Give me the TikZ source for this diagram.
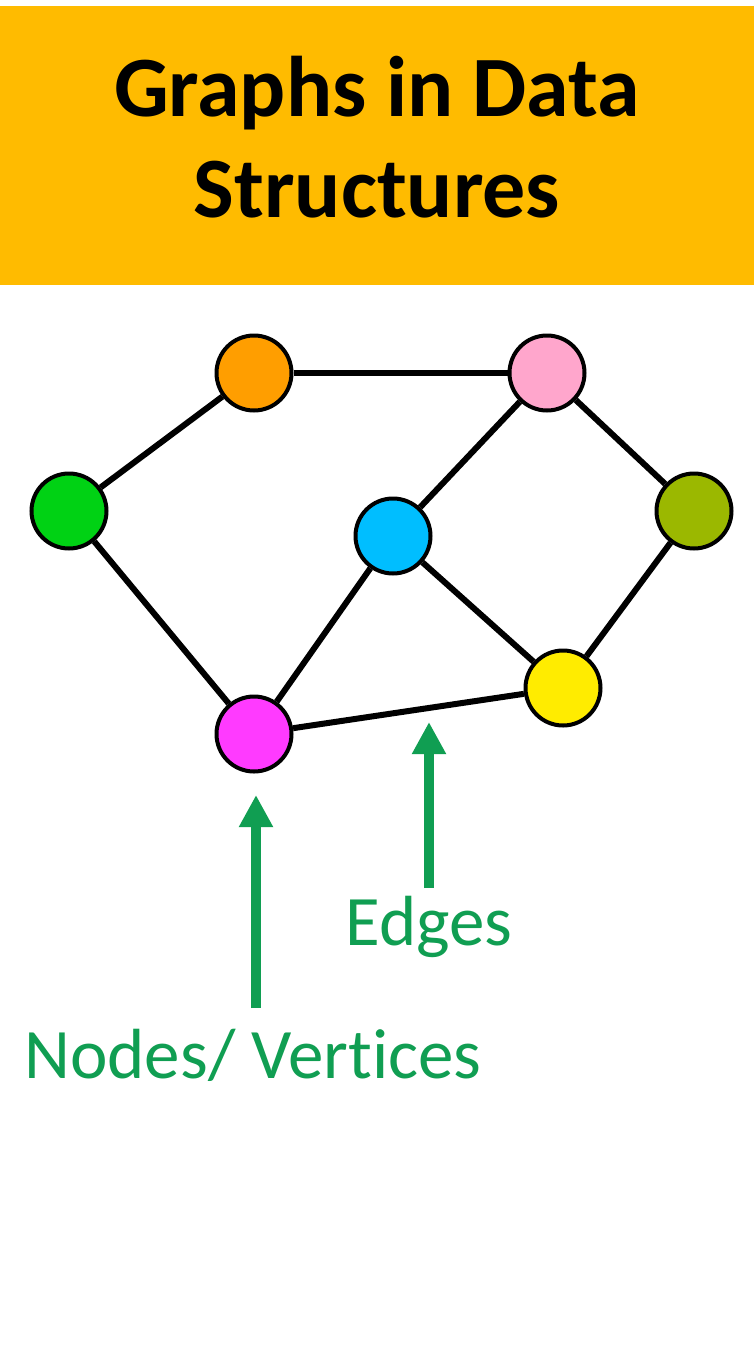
\documentclass[tikz,border=0pt]{standalone}
\usepackage{fontspec}
\setmainfont{Carlito}[Ligatures={NoCommon}]
\usetikzlibrary{arrows.meta}
\definecolor{banner}{RGB}{255,187,0}
\definecolor{cOrange}{RGB}{255,158,0}
\definecolor{cPink}{RGB}{255,166,204}
\definecolor{cGreen}{RGB}{0,210,20}
\definecolor{cCyan}{RGB}{0,190,255}
\definecolor{cOlive}{RGB}{155,184,0}
\definecolor{cYellow}{RGB}{255,236,0}
\definecolor{cMagenta}{RGB}{255,58,255}
\definecolor{labelgreen}{RGB}{16,158,82}
\begin{document}
\begin{tikzpicture}[x=1pt,y=-1pt,
  vertex/.style={circle,draw=black,line width=4pt,minimum size=75pt,inner sep=0pt},
  link/.style={line width=6pt,black},
  pointer/.style={labelgreen,line width=10pt,-{Triangle[length=32pt,width=32pt]}},
  caption/.style={labelgreen,font=\fontsize{71}{80}\selectfont,inner sep=0pt,anchor=base}]
\useasboundingbox (0,0) rectangle (754,1360);
\fill[white] (0,0) rectangle (754,1360);
% title banner
\fill[banner] (0,6) rectangle (754,285);
\node[font=\bfseries\fontsize{86}{100}\selectfont,anchor=base,inner sep=0pt] (t1) at (377,116) {Graphs in Data};
\node[font=\bfseries\fontsize{86}{100}\selectfont,anchor=base,inner sep=0pt] (t2) at (377,217) {Structures};
% vertices
\node[vertex,fill=cOrange]  (or) at (254,373) {};
\node[vertex,fill=cPink]    (pk) at (547,373) {};
\node[vertex,fill=cGreen]   (gr) at (69,511) {};
\node[vertex,fill=cCyan]    (cy) at (393,536) {};
\node[vertex,fill=cOlive]   (ol) at (694,511) {};
\node[vertex,fill=cYellow]  (ye) at (563,688) {};
\node[vertex,fill=cMagenta] (mg) at (254,734) {};
% edges, ending at the vertex borders
\draw[link] (or) -- (pk);
\draw[link] (or) -- (gr);
\draw[link] (gr) -- (mg);
\draw[link] (mg) -- (cy);
\draw[link] (cy) -- (pk);
\draw[link] (pk) -- (ol);
\draw[link] (ol) -- (ye);
\draw[link] (cy) -- (ye);
\draw[link] (mg) -- (ye);
% labels and pointers
\node[caption] (edges) at (429,945) {Edges};
\node[caption] (verts) at (253,1078) {Nodes/ Vertices};
\coordinate (e0) at (429,888);
\coordinate (e1) at (429,722);
\coordinate (v0) at (256,1008);
\coordinate (v1) at (256,795);
\draw[pointer] (e0) -- (e1);
\draw[pointer] (v0) -- (v1);
\end{tikzpicture}
\end{document}
